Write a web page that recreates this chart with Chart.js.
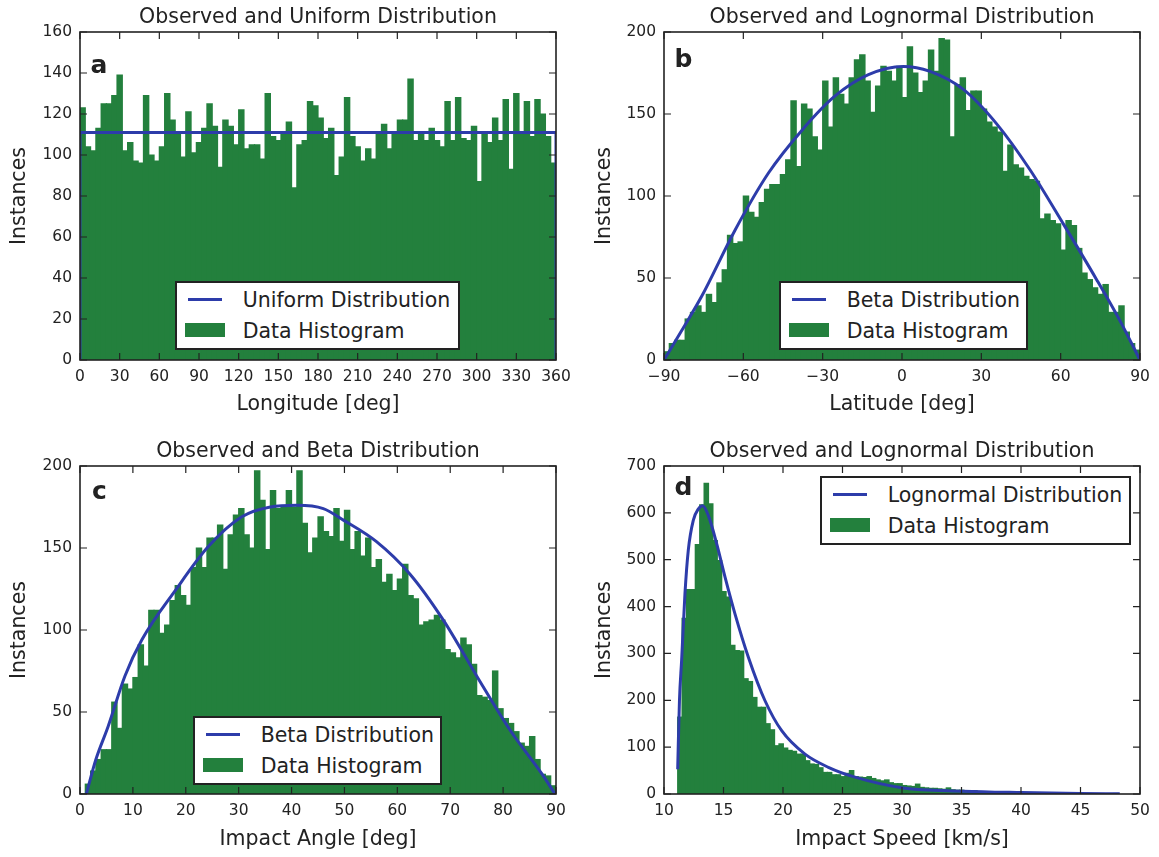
<!DOCTYPE html>
<html>
<head>
<meta charset="utf-8">
<script src="https://cdn.jsdelivr.net/npm/chart.js@4"></script>
<style>
  body { margin: 0; background: #fff; }
  #page { position: relative; width: 1159px; height: 857px; overflow: hidden;
          font-family: 'DejaVu Sans', sans-serif; color: #222; }
  .panel { position: absolute; }
  .title { position: absolute; text-align: center; font-size: 20.5px; line-height: 1; white-space: nowrap; }
  .tag { position: absolute; font-weight: bold; font-size: 25px; line-height: 1; }
  .legend { position: absolute; height: 69px; box-sizing: border-box; border: 2px solid #222; background: #fff; }
  .legend .line { position: absolute; left: 11px; top: 14.5px; width: 34px; height: 3px; background: #2d3caa; }
  .legend .patch { position: absolute; left: 8px; top: 40px; width: 40px; height: 14px; background: #23803d; }
  .legend span { position: absolute; left: 65.7px; font-size: 20.5px; line-height: 1; white-space: nowrap; }
</style>
</head>
<body>
<div id="page">
  <div class="panel" style="left:0;top:0"><canvas id="chartA" width="579" height="428"></canvas></div>
  <div class="panel" style="left:579px;top:0"><canvas id="chartB" width="580" height="428"></canvas></div>
  <div class="panel" style="left:0;top:428px"><canvas id="chartC" width="579" height="429"></canvas></div>
  <div class="panel" style="left:579px;top:428px"><canvas id="chartD" width="580" height="429"></canvas></div>

  <div class="title" style="left:80px;top:6px;width:476px">Observed and Uniform Distribution</div>
  <div class="title" style="left:664px;top:6px;width:476px">Observed and Lognormal Distribution</div>
  <div class="title" style="left:80px;top:440px;width:476px">Observed and Beta Distribution</div>
  <div class="title" style="left:664px;top:440px;width:476px">Observed and Lognormal Distribution</div>

  <div class="tag" style="left:90.4px;top:52.1px">a</div>
  <div class="tag" style="left:674.4px;top:45.5px">b</div>
  <div class="tag" style="left:92px;top:478.1px">c</div>
  <div class="tag" style="left:674.4px;top:473.8px">d</div>

  <div class="legend" style="left:175px;top:281px;width:285px">
    <div class="line"></div><span style="top:7.4px">Uniform Distribution</span>
    <div class="patch"></div><span style="top:38px">Data Histogram</span>
  </div>
  <div class="legend" style="left:779px;top:281px;width:249px">
    <div class="line"></div><span style="top:7.4px">Beta Distribution</span>
    <div class="patch"></div><span style="top:38px">Data Histogram</span>
  </div>
  <div class="legend" style="left:193px;top:716px;width:249px">
    <div class="line"></div><span style="top:7.4px">Beta Distribution</span>
    <div class="patch"></div><span style="top:38px">Data Histogram</span>
  </div>
  <div class="legend" style="left:820px;top:476px;width:311px">
    <div class="line"></div><span style="top:7.4px">Lognormal Distribution</span>
    <div class="patch"></div><span style="top:38px">Data Histogram</span>
  </div>
</div>

<script>
// Histogram counts, one value per bin

// a: longitude, 90 bins of 4 deg from 0
const lonStart = 0, lonWidth = 4;
const lonCounts = [
  123, 104, 102, 113, 125, 125, 129, 139, 102, 106,
  97, 96, 129, 100, 97, 104, 130, 117, 111, 99,
  121, 101, 106, 113, 125, 114, 94, 117, 114, 105,
  122, 103, 105, 105, 98, 130, 109, 107, 110, 116,
  84, 105, 107, 126, 124, 118, 108, 113, 90, 99,
  128, 109, 104, 97, 103, 98, 111, 115, 103, 111,
  117, 117, 137, 107, 111, 107, 113, 107, 104, 126,
  107, 128, 108, 107, 114, 87, 111, 106, 118, 107,
  127, 93, 130, 111, 126, 109, 127, 120, 109, 96
];
const uniformX = [0, 0, 360, 360];
const uniformY = [0, 111, 111, 0];

// b: latitude, 90 bins of 2 deg from -90
const latStart = -90, latWidth = 2;
const latCounts = [
  5, 10, 12, 12, 25, 29, 33, 29, 40, 35,
  47, 55, 76, 71, 72, 100, 90, 87, 96, 104,
  107, 107, 113, 122, 158, 118, 156, 153, 136, 128,
  170, 142, 172, 162, 156, 172, 183, 186, 170, 151,
  167, 179, 176, 170, 179, 160, 191, 175, 163, 170,
  189, 176, 196, 195, 136, 168, 172, 152, 164, 164,
  153, 145, 142, 139, 115, 131, 119, 117, 112, 110,
  109, 86, 89, 85, 83, 67, 85, 82, 68, 53,
  49, 44, 40, 46, 29, 29, 33, 17, 10, 6
];
const latCurveX = [-90, -83.3, -75.7, -63.2, -50.5, -37.9, -25.3, -12.7, 0.5, 10.6, 23.2, 35.8, 48.4, 61, 73.6, 82.4, 90];
const latCurveY = [0, 18, 39, 79, 114, 140, 161, 174, 179, 176, 165, 144, 116, 83, 49, 24, 0];

// c: impact angle, 90 bins of 1 deg from 0
const angStart = 0, angWidth = 1;
const angCounts = [
  0, 6, 14, 21, 27, 27, 56, 40, 67, 64,
  71, 91, 78, 112, 112, 98, 103, 118, 127, 121,
  115, 138, 150, 138, 156, 156, 164, 137, 158, 170,
  174, 158, 150, 197, 179, 149, 185, 174, 175, 185,
  175, 197, 165, 147, 156, 169, 160, 157, 174, 154,
  173, 149, 160, 145, 156, 138, 143, 129, 134, 124,
  131, 140, 121, 119, 103, 105, 106, 109, 106, 88,
  86, 83, 95, 91, 79, 60, 59, 57, 75, 52,
  46, 43, 38, 31, 29, 35, 21, 12, 11, 5
];
const angCurveX = [1.2, 3, 5.3, 8.5, 11.7, 18, 24.3, 30.6, 36, 41, 46, 49.8, 56, 62.4, 68.7, 75, 81.3, 87.6, 89.8];
const angCurveY = [0, 21, 41, 72, 94, 124, 151, 169, 175, 176, 174, 167, 154, 134, 106, 72, 39, 11, 0];

// d: impact speed, 100 bins of 0.37 km/s from 11.15
const spdStart = 11.15, spdWidth = 0.37;
const spdCounts = [
  164, 375, 436, 436, 532, 617, 663, 619, 541, 498,
  432, 420, 317, 306, 305, 246, 240, 206, 185, 185,
  150, 137, 103, 107, 98, 93, 91, 85, 85, 71,
  64, 63, 56, 46, 46, 41, 41, 37, 44, 50,
  37, 36, 35, 37, 33, 30, 28, 30, 24, 22,
  22, 18, 17, 16, 21, 14, 13, 12, 12, 11,
  10, 13, 9, 8, 8, 7, 6, 7, 5, 5,
  4, 5, 4, 3, 3, 3, 2, 3, 2, 2,
  2, 1, 2, 1, 1, 1, 1, 0, 1, 0,
  1, 0, 0, 1, 0, 0, 0, 0, 0, 1
];
const spdCurveX = [11.15, 11.3, 11.48, 11.76, 12.04, 12.46, 12.88, 13.25, 13.73, 14.43, 15.13, 15.97, 17.09, 18.49, 19.89, 21.85, 23.81, 26.05, 30.1, 35.15, 40.06, 45, 48.3];
const spdCurveY = [53, 200, 285, 427, 520, 584, 608, 615, 594, 534, 463, 384, 292, 199, 135, 85, 57, 36, 13, 6, 3, 1, 0.5];

const GREEN = '#23803d';
const BLUE = '#2d3caa';
const INK = '#222';

Chart.defaults.font.family = "'DejaVu Sans', sans-serif";
Chart.defaults.color = INK;

/**
 * Matplotlib style frame with inward ticks on all four sides
 */
const framePlugin = {
  id: 'frame',
  afterDatasetsDraw(chart) {
    const { ctx, chartArea: a, scales: { x, y } } = chart;
    ctx.save();
    ctx.strokeStyle = INK;
    ctx.lineWidth = 1.2;
    ctx.beginPath();
    x.ticks.forEach(t => {
      const px = x.getPixelForValue(t.value);
      ctx.moveTo(px, a.bottom); ctx.lineTo(px, a.bottom - 7);
      ctx.moveTo(px, a.top); ctx.lineTo(px, a.top + 7);
    });
    y.ticks.forEach(t => {
      const py = y.getPixelForValue(t.value);
      ctx.moveTo(a.left, py); ctx.lineTo(a.left + 7, py);
      ctx.moveTo(a.right, py); ctx.lineTo(a.right - 7, py);
    });
    ctx.stroke();
    ctx.lineWidth = 1.6;
    ctx.strokeRect(a.left, a.top, a.right - a.left, a.bottom - a.top);
    ctx.restore();
  }
};

function toBars(start, width, counts) {
  return counts.map((c, i) => ({ x: start + width * (i + 0.5), y: c }));
}

function toPoints(xs, ys) {
  return xs.map((x, i) => ({ x: x, y: ys[i] }));
}

const minusSign = v => (v < 0 ? '\u2212' + Math.abs(v) : String(v));

/**
 * Build one histogram panel
 */
function makePanel(id, cfg) {
  return new Chart(document.getElementById(id), {
    type: 'bar',
    data: {
      datasets: [
        {
          type: 'line',
          data: cfg.curve,
          borderColor: BLUE,
          borderWidth: 3,
          pointRadius: 0,
          fill: false,
          tension: 0,
          cubicInterpolationMode: cfg.smooth ? 'monotone' : 'default',
          order: 0
        },
        {
          type: 'bar',
          data: cfg.bars,
          backgroundColor: GREEN,
          borderColor: GREEN,
          borderWidth: 0,
          inflateAmount: 0.6,
          barPercentage: 1,
          categoryPercentage: 1,
          order: 1
        }
      ]
    },
    options: {
      responsive: false,
      animation: false,
      devicePixelRatio: 1,
      layout: { padding: cfg.padding },
      plugins: { legend: { display: false }, tooltip: { enabled: false } },
      scales: {
        x: {
          type: 'linear',
          min: cfg.xMin,
          max: cfg.xMax,
          offset: false,
          grid: { display: false, drawTicks: false, offset: false },
          border: { display: false },
          ticks: { stepSize: cfg.xStep, padding: 7.4, font: { size: 15.5 }, color: INK, callback: minusSign },
          title: { display: true, text: cfg.xTitle, font: { size: 20.5 }, padding: 0, color: INK },
          afterFit: s => { s.height = cfg.xHeight; }
        },
        y: {
          min: 0,
          max: cfg.yMax,
          grid: { display: false, drawTicks: false },
          border: { display: false },
          ticks: { stepSize: cfg.yStep, padding: 8, font: { size: 15.5 }, color: INK },
          title: { display: true, text: 'Instances', font: { size: 20.5 }, padding: 0, color: INK },
          afterFit: s => { s.width = cfg.yWidth; }
        }
      }
    },
    plugins: [framePlugin]
  });
}

makePanel('chartA', {
  bars: toBars(lonStart, lonWidth, lonCounts),
  curve: toPoints(uniformX, uniformY),
  smooth: false,
  xMin: 0, xMax: 360, xStep: 30, yMax: 160, yStep: 20,
  xTitle: 'Longitude [deg]',
  padding: { left: 7.7, top: 32, right: 23, bottom: 10.7 },
  yWidth: 72.3, xHeight: 57.3
});

makePanel('chartB', {
  bars: toBars(latStart, latWidth, latCounts),
  curve: toPoints(latCurveX, latCurveY),
  smooth: true,
  xMin: -90, xMax: 90, xStep: 30, yMax: 200, yStep: 50,
  xTitle: 'Latitude [deg]',
  padding: { left: 13.7, top: 32, right: 19, bottom: 10.7 },
  yWidth: 71.3, xHeight: 57.3
});

makePanel('chartC', {
  bars: toBars(angStart, angWidth, angCounts),
  curve: toPoints(angCurveX, angCurveY),
  smooth: true,
  xMin: 0, xMax: 90, xStep: 10, yMax: 200, yStep: 50,
  xTitle: 'Impact Angle [deg]',
  padding: { left: 7.7, top: 38, right: 23, bottom: 4.7 },
  yWidth: 72.3, xHeight: 58.3
});

makePanel('chartD', {
  bars: toBars(spdStart, spdWidth, spdCounts),
  curve: toPoints(spdCurveX, spdCurveY),
  smooth: true,
  xMin: 10, xMax: 50, xStep: 5, yMax: 700, yStep: 100,
  xTitle: 'Impact Speed [km/s]',
  padding: { left: 13.7, top: 38, right: 19, bottom: 4.7 },
  yWidth: 71.3, xHeight: 58.3
});
</script>
</body>
</html>
